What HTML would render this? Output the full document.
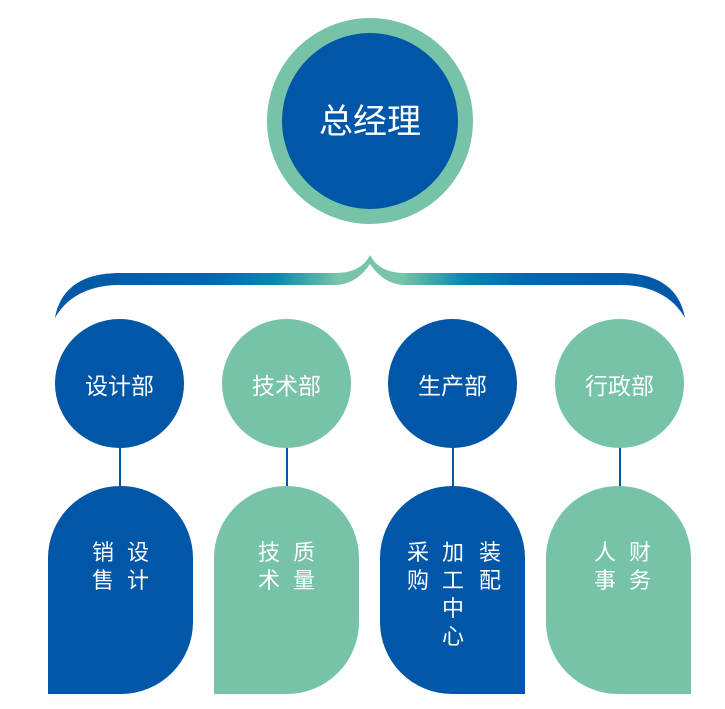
<!DOCTYPE html>
<html><head><meta charset="utf-8"><style>
body{margin:0;width:725px;height:709px;background:#fff;position:relative;overflow:hidden;font-family:"Liberation Sans","Noto Sans CJK SC",sans-serif;}
.a{position:absolute}
.c{position:absolute;border-radius:50%;color:#fff;display:flex;align-items:center;justify-content:center;font-size:23px}
.s{position:absolute;top:486px;height:208px;width:145px}
.t{position:absolute;color:#fff;font-size:22px;line-height:28px;width:24px;text-align:center}
.l{position:absolute;width:2px;background:#0056a7;top:447px;height:40px}
</style></head><body>
<svg class="a" style="left:0;top:0" width="725" height="709">
<defs><linearGradient id="g" x1="55" y1="0" x2="685" y2="0" gradientUnits="userSpaceOnUse">
<stop offset="0" stop-color="#0056a7"/><stop offset="0.25" stop-color="#0068ad"/><stop offset="0.35" stop-color="#0a86b0"/><stop offset="0.45" stop-color="#78c4a8"/><stop offset="0.55" stop-color="#78c4a8"/><stop offset="0.65" stop-color="#0a86b0"/><stop offset="0.75" stop-color="#0068ad"/><stop offset="1" stop-color="#0056a7"/></linearGradient></defs>
<path fill="url(#g)" d="M55,318 C60,290 80,273 120,273 L335,273 C355,273 365,265 370,255 C375,265 385,273 405,273 L620,273 C660,273 680,290 685,318 C675,300 655,285 620,285 L405,285 C390,285 378,276 370,264 C362,276 350,285 335,285 L120,285 C85,285 65,300 55,318 Z"/>
<circle cx="370" cy="121" r="103" fill="#76c3a7"/>
<circle cx="370" cy="121" r="88" fill="#0056a7"/>
<text x="370" y="133" fill="#fff" font-size="34" text-anchor="middle" font-family="Liberation Sans, Noto Sans CJK SC, sans-serif">总经理</text>
</svg>
<div class="l" style="left:119px"></div><div class="l" style="left:286px"></div><div class="l" style="left:452px"></div><div class="l" style="left:619px"></div>
<div class="c" style="left:55px;top:319px;width:129px;height:129px;background:#0056a7">设计部</div>
<div class="c" style="left:222px;top:319px;width:129px;height:129px;background:#76c3a7">技术部</div>
<div class="c" style="left:388px;top:319px;width:129px;height:129px;background:#0056a7">生产部</div>
<div class="c" style="left:555px;top:319px;width:129px;height:129px;background:#76c3a7">行政部</div>
<div class="s" style="left:48px;background:#0056a7;border-radius:72px 72px 72px 0"></div>
<div class="s" style="left:214px;background:#76c3a7;border-radius:72px 72px 72px 0"></div>
<div class="s" style="left:380px;background:#0056a7;border-radius:72px 72px 0 72px"></div>
<div class="s" style="left:546px;background:#76c3a7;border-radius:72px 72px 0 72px"></div>
<div class="t" style="left:91px;top:539px">销<br>售</div><div class="t" style="left:126px;top:539px">设<br>计</div>
<div class="t" style="left:257px;top:539px">技<br>术</div><div class="t" style="left:292px;top:539px">质<br>量</div>
<div class="t" style="left:406px;top:539px">采<br>购</div><div class="t" style="left:441px;top:539px">加<br>工<br>中<br>心</div><div class="t" style="left:478px;top:539px">装<br>配</div>
<div class="t" style="left:593px;top:539px">人<br>事</div><div class="t" style="left:628px;top:539px">财<br>务</div>
</body></html>
